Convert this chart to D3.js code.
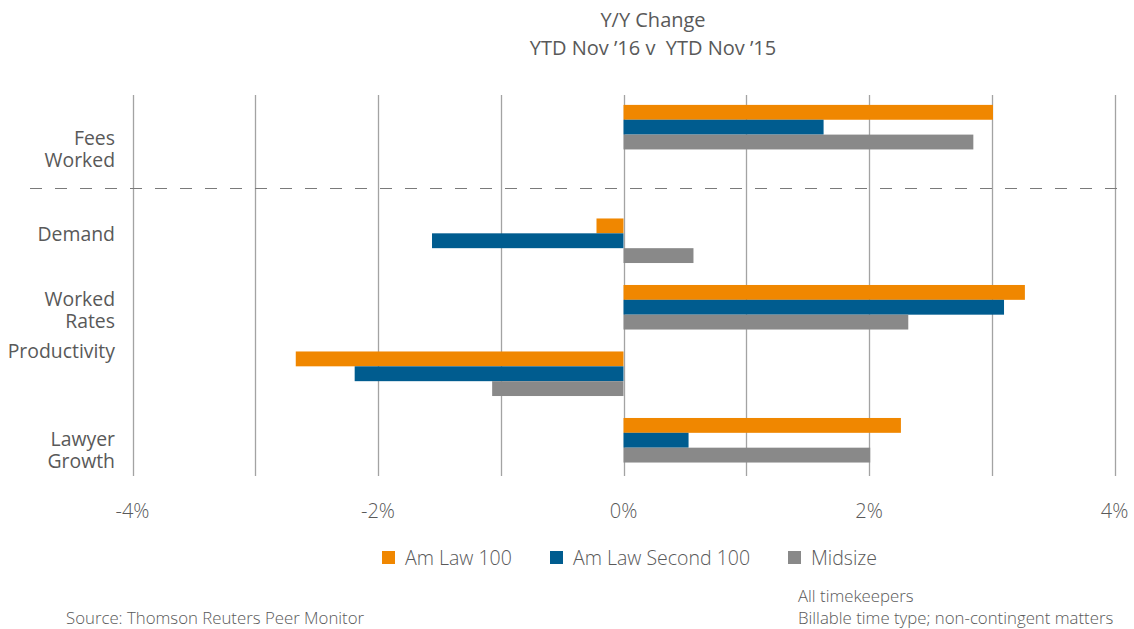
<!DOCTYPE html>
<html>
<head>
<meta charset="utf-8">
<title>Y/Y Change</title>
<script src="https://d3js.org/d3.v7.min.js"></script>
<style>
  body { margin: 0; background: #fff; }
  svg text { font-family: "Open Sans", sans-serif; fill: #595959; }
  .title { font-size: 20px; text-anchor: middle; }
  .cat { font-size: 19.4px; text-anchor: end; }
  .tick-label { font-size: 20px; font-weight: 300; text-anchor: middle; }
  .legend text { font-size: 19.5px; font-weight: 300; }
  .note { font-size: 16.8px; font-weight: 300; }
</style>
</head>
<body>
<div id="chart"></div>
<script>
// data
var topCategories = ["Fees Worked"];
var bottomCategories = ["Demand", "Worked Rates", "Productivity", "Lawyer Growth"];
var series = ["Am Law 100", "Am Law Second 100", "Midsize"];
var amLaw100 =       [3.01, -0.22, 3.27, -2.67, 2.26];
var amLawSecond100 = [1.63, -1.56, 3.10, -2.19, 0.53];
var midsize =        [2.85,  0.57, 2.32, -1.07, 2.01];
var xTicks = [-4, -2, 0, 2, 4];
var gridTicks = [-4, -3, -2, -1, 0, 1, 2, 3, 4];

var colors = ["#f08700", "#005c8f", "#898989"];

// category labels are hand-placed text boxes in the original, nudged off the bar groups
var labelNudge = { "Fees Worked": 23, "Demand": -6, "Worked Rates": 4, "Productivity": -22, "Lawyer Growth": 11 };

var width = 1134, height = 629;
var svg = d3.select("#chart").append("svg")
    .attr("width", width)
    .attr("height", height);

var categories = topCategories.concat(bottomCategories);
var rows = categories.map(function(c, i) {
  return { name: c, values: [amLaw100[i], amLawSecond100[i], midsize[i]] };
});

var x = d3.scaleLinear().domain([-4, 4]).range([132.5, 1114.5]);
var yTop = d3.scaleBand().domain(topCategories).range([94, 160]).paddingInner(0.33).paddingOuter(0.165);
var yBottom = d3.scaleBand().domain(bottomCategories).range([207.5, 473.5]).paddingInner(0.33).paddingOuter(0.165);
function y(c) { return topCategories.indexOf(c) >= 0 ? yTop(c) : yBottom(c); }
var bw = yBottom.bandwidth();
var ySeries = d3.scaleBand().domain(series).range([0, bw]);

var plotTop = 95, plotBottom = 476;

// title
svg.append("text").attr("class", "title").attr("x", 653).attr("y", 27).text("Y/Y Change");
svg.append("text").attr("class", "title").attr("x", 653).attr("y", 55).text("YTD Nov \u201916 v\u00a0 YTD Nov \u201915");

// gridlines
svg.append("g").selectAll("line")
  .data(gridTicks)
  .enter().append("line")
    .attr("x1", function(d) { return Math.round(x(d)) + 0.5; })
    .attr("x2", function(d) { return Math.round(x(d)) + 0.5; })
    .attr("y1", plotTop)
    .attr("y2", plotBottom)
    .attr("stroke", "#a3a3a3")
    .attr("stroke-width", 1.3);

// dashed separator
svg.append("line")
  .attr("x1", 30).attr("x2", 1118)
  .attr("y1", 188.5).attr("y2", 188.5)
  .attr("stroke", "#7a7a7a")
  .attr("stroke-width", 1.2)
  .attr("stroke-dasharray", "12,13");

// bars
var groups = svg.append("g").selectAll("g")
  .data(rows)
  .enter().append("g")
    .attr("transform", function(d) { return "translate(0," + y(d.name) + ")"; });

groups.selectAll("rect")
  .data(function(d) { return d.values.map(function(v, i) { return { s: series[i], v: v, i: i }; }); })
  .enter().append("rect")
    .attr("x", function(d) { return x(Math.min(0, d.v)); })
    .attr("width", function(d) { return Math.abs(x(d.v) - x(0)); })
    .attr("y", function(d) { return ySeries(d.s); })
    .attr("height", ySeries.bandwidth())
    .attr("fill", function(d) { return colors[d.i]; });

// category labels
var lineGap = 22;
svg.append("g").selectAll("text")
  .data(rows)
  .enter().append("text")
    .attr("class", "cat")
    .attr("x", 115)
    .attr("y", function(d) {
      var lines = d.name === "Demand" || d.name === "Productivity" ? 1 : 2;
      var c = y(d.name) + bw / 2 + labelNudge[d.name];
      return c - (lines - 1) * lineGap / 2 + 6;
    })
    .each(function(d) {
      var parts = (d.name === "Demand" || d.name === "Productivity") ? [d.name] : d.name.split(" ");
      var t = d3.select(this);
      var x0 = t.attr("x");
      parts.forEach(function(p, i) {
        t.append("tspan").attr("x", x0).attr("dy", i === 0 ? 0 : lineGap).text(p);
      });
    });

// x axis labels
svg.append("g").selectAll("text")
  .data(xTicks)
  .enter().append("text")
    .attr("class", "tick-label")
    .attr("x", function(d) { return x(d); })
    .attr("y", 518)
    .text(function(d) { return d + "%"; });

// legend
var legendX = [382, 550, 788];
var legend = svg.append("g").attr("class", "legend").selectAll("g")
  .data(series)
  .enter().append("g")
    .attr("transform", function(d, i) { return "translate(" + legendX[i] + ",551)"; });
legend.append("rect")
  .attr("width", 13).attr("height", 13)
  .attr("fill", function(d, i) { return colors[i]; });
legend.append("text")
  .attr("x", 23).attr("y", 13.5)
  .text(function(d) { return d; });

// notes
svg.append("text").attr("class", "note").attr("x", 66).attr("y", 624).text("Source: Thomson Reuters Peer Monitor");
svg.append("text").attr("class", "note").attr("x", 798).attr("y", 602).text("All timekeepers");
svg.append("text").attr("class", "note").attr("x", 798).attr("y", 624).text("Billable time type; non-contingent matters");
</script>
</body>
</html>
